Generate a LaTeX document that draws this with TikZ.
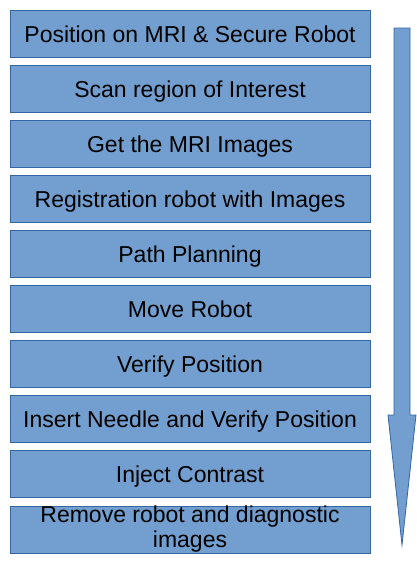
\documentclass[tikz,border=0pt]{standalone}
\usepackage{fontspec}
\setmainfont{Liberation Sans}
\definecolor{boxfill}{HTML}{729FCF}
\definecolor{boxline}{HTML}{3465A4}
\begin{document}
\begin{tikzpicture}[x=1pt,y=-1pt,
  basebox/.style={draw=boxline, fill=boxfill, line width=0.8pt, minimum width=360pt, minimum height=47pt,
    inner sep=0pt, align=center, font=\fontsize{23}{25}\selectfont, text=black},
  stepbox/.style={basebox, text height=20pt, text depth=3pt}]
\useasboundingbox (0,0) rectangle (416,565);
\node[stepbox] (s1) at (190,33.5) {Position on MRI \& Secure Robot};
\node[stepbox] (s2) at (190,88.6) {Scan region of Interest};
\node[stepbox] (s3) at (190,143.7) {Get the MRI Images};
\node[stepbox] (s4) at (190,198.8) {Registration robot with Images};
\node[stepbox] (s5) at (190,253.9) {Path Planning};
\node[stepbox] (s6) at (190,309.0) {Move Robot};
\node[stepbox] (s7) at (190,364.1) {Verify Position};
\node[stepbox] (s8) at (190,419.2) {Insert Needle and Verify Position};
\node[stepbox] (s9) at (190,474.3) {Inject Contrast};
\node[basebox] (s10) at (190,529.4) {Remove robot and diagnostic\\images};
\draw[draw=boxline, fill=boxfill, line width=0.8pt, line join=miter]
  (394,28) -- (410,28) -- (410,415) -- (416,415) -- (402,545) -- (388,415) -- (394,415) -- cycle;
\end{tikzpicture}
\end{document}
